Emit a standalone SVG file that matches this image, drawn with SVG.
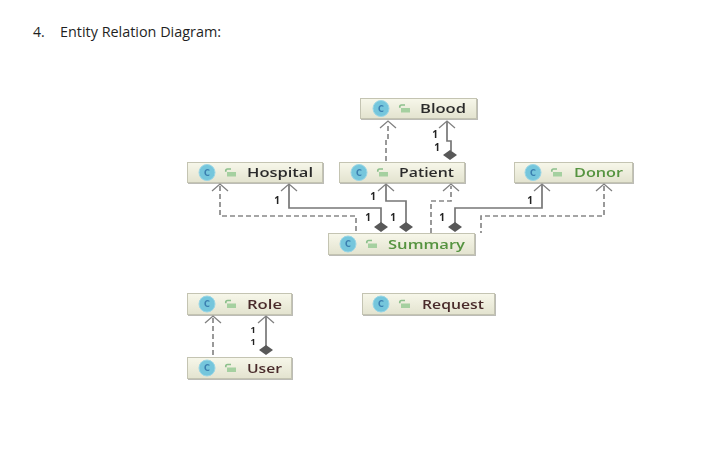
<svg xmlns="http://www.w3.org/2000/svg" width="727" height="463" viewBox="0 0 727 463">
<style>
.box{fill:url(#bg);stroke:#c4c4b2;stroke-width:1}
.sh{fill:#8f8f85;opacity:.6}
.ic{fill:#74c6dc;stroke:#9ad6e6;stroke-width:1}
.c{font:bold 8px "DejaVu Sans",sans-serif;fill:#3b7fb0;text-anchor:middle}
.lk{fill:none;stroke:#8cc08c;stroke-width:1.7}
.lf{fill:#a5d0a0}
.n{font:600 12px "Open Sans",sans-serif;fill:#2a2a2a}
.g{fill:#55933f}
.r{fill:#4a2c2c}
.s{fill:none;stroke:#777;stroke-width:1.7}
.d{fill:none;stroke:#888;stroke-width:1.7;stroke-dasharray:5 3}
.a{fill:none;stroke:#808080;stroke-width:1.3}
.dm{fill:#585858}
.m{font:bold 10px "Open Sans",sans-serif;fill:#222;text-anchor:middle}
.m2{font-size:9px}
.t{font:14px "Open Sans",sans-serif;fill:#1f1f1f}
</style>
<defs>
<linearGradient id="bg" x1="0" y1="0" x2="0" y2="1"><stop offset="0" stop-color="#f7f7ea"/><stop offset="1" stop-color="#e3e3cf"/></linearGradient>
<filter id="soft" x="-5%" y="-5%" width="110%" height="110%"><feGaussianBlur stdDeviation="0.45"/></filter>
<g id="icons"><circle class="ic" cx="0" cy="0" r="8"/><text class="c" x="0" y="3">C</text><path class="lk" d="M24 -3.500h-3.500a1.700 1.700 0 0 0 -1.700 1.700v1"/><rect class="lf" x="20" y="-.5" width="9" height="4.500"/></g>
</defs>
<rect width="727" height="463" fill="#fff"/>
<g id="title"><text class="t" x="33" y="37">4.</text><text class="t" x="60" y="37" textLength="161" lengthAdjust="spacingAndGlyphs">Entity Relation Diagram:</text></g>
<g filter="url(#soft)">
<g id="connectors">
<path class="d" d="M386 161V140H388V123"/><path class="a" d="M380 128L388 121L396 128"/>
<path class="s" d="M447 122V141H451V151"/><path class="a" d="M439 128L447 121L455 128"/>
<path class="dm" d="M450 150L457 155L450 160L443 155Z"/>
<path class="s" d="M386 185V201H406V223"/><path class="a" d="M378 191L386 184L394 191"/>
<path class="dm" d="M406 222L413 227L406 232L399 227Z"/>
<path class="s" d="M289 185V208H381V223"/><path class="a" d="M281 191L289 184L297 191"/>
<path class="dm" d="M381 222L388 227L381 232L374 227Z"/>
<path class="d" d="M220 186V216H356V233"/><path class="a" d="M212 191L220 184L228 191"/>
<path class="d" d="M431 233V201H451V186"/><path class="a" d="M443 191L451 184L459 191"/>
<path class="s" d="M542 185V208H455V223"/><path class="a" d="M534 191L542 184L550 191"/>
<path class="dm" d="M455 222L462 227L455 232L448 227Z"/>
<path class="d" d="M604 186V216H481V233"/><path class="a" d="M596 191L604 184L612 191"/>
<path class="d" d="M213 318V357"/><path class="a" d="M205 323L213 316L221 323"/>
<path class="s" d="M266 317V346"/><path class="a" d="M258 323L266 316L274 323"/>
<path class="dm" d="M266 345L273 350L266 355L259 350Z"/>
<g>
<text class="m" x="435" y="138">1</text><text class="m" x="437" y="151">1</text>
<text class="m" x="373" y="200">1</text><text class="m" x="277" y="204">1</text>
<text class="m" x="368" y="221">1</text><text class="m" x="393" y="221">1</text>
<text class="m" x="442" y="221">1</text><text class="m" x="530" y="204">1</text>
<text class="m m2" x="253" y="333">1</text><text class="m m2" x="253" y="345">1</text>
</g>
</g>
<g id="blood"><rect class="sh" x="361" y="99" width="117" height="21"/><rect class="box" x="360.500" y="98.500" width="116" height="20"/><use href="#icons" x="381" y="108.500"/><text class="n" x="420" y="113" textLength="46" lengthAdjust="spacingAndGlyphs">Blood</text></g>
<g id="hospital"><rect class="sh" x="188" y="163" width="136" height="21"/><rect class="box" x="187.500" y="162.500" width="135" height="20"/><use href="#icons" x="207" y="172.500"/><text class="n" x="247" y="177" textLength="66" lengthAdjust="spacingAndGlyphs">Hospital</text></g>
<g id="patient"><rect class="sh" x="340" y="163" width="126" height="21"/><rect class="box" x="339.500" y="162.500" width="125" height="20"/><use href="#icons" x="359" y="172.500"/><text class="n" x="399" y="177" textLength="55" lengthAdjust="spacingAndGlyphs">Patient</text></g>
<g id="donor"><rect class="sh" x="515" y="163" width="119" height="21"/><rect class="box" x="514.500" y="162.500" width="118" height="20"/><use href="#icons" x="533" y="172.500"/><text class="n g" x="574" y="177" textLength="49" lengthAdjust="spacingAndGlyphs">Donor</text></g>
<g id="summary"><rect class="sh" x="329" y="234" width="147" height="22"/><rect class="box" x="328.500" y="233.500" width="146" height="21"/><use href="#icons" x="348" y="244"/><text class="n g" x="388" y="249" textLength="77" lengthAdjust="spacingAndGlyphs">Summary</text></g>
<g id="role"><rect class="sh" x="188" y="294" width="105" height="22"/><rect class="box" x="187.500" y="293.500" width="104" height="21"/><use href="#icons" x="207" y="304"/><text class="n r" x="247" y="308.500" textLength="35" lengthAdjust="spacingAndGlyphs">Role</text></g>
<g id="request"><rect class="sh" x="363" y="294" width="133" height="22"/><rect class="box" x="362.500" y="293.500" width="132" height="21"/><use href="#icons" x="381" y="304"/><text class="n r" x="422" y="308.500" textLength="62" lengthAdjust="spacingAndGlyphs">Request</text></g>
<g id="user"><rect class="sh" x="188" y="358" width="105" height="22"/><rect class="box" x="187.500" y="357.500" width="104" height="21"/><use href="#icons" x="207" y="368"/><text class="n r" x="247" y="372.500" textLength="35" lengthAdjust="spacingAndGlyphs">User</text></g>
</g>
</svg>
